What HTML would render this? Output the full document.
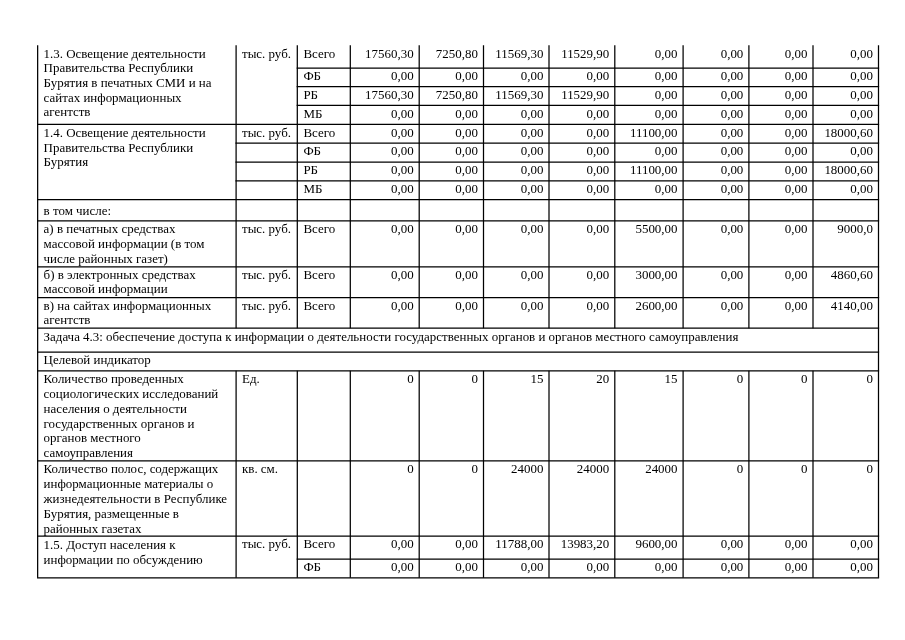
<!DOCTYPE html><html><head><meta charset="utf-8"><style>
html,body{margin:0;padding:0;background:#fff;width:905px;height:640px;overflow:hidden}
.t{position:absolute;font-family:"Liberation Serif","Noto Serif CJK SC",serif;font-size:12.95px;line-height:14.72px;white-space:nowrap;color:#000}
svg{position:absolute;left:0;top:0}
#w{position:absolute;left:0;top:0;width:905px;height:640px;will-change:transform;background:#fff}
</style></head><body><div id="w">
<svg width="905" height="640" viewBox="0 0 905 640"><g stroke="#000" stroke-width="1.25" shape-rendering="geometricPrecision">
<line x1="296.68" y1="68.00" x2="879.12" y2="68.00"/>
<line x1="296.68" y1="86.60" x2="879.12" y2="86.60"/>
<line x1="296.68" y1="105.45" x2="879.12" y2="105.45"/>
<line x1="37.02" y1="124.40" x2="879.12" y2="124.40"/>
<line x1="235.47" y1="143.00" x2="879.12" y2="143.00"/>
<line x1="235.47" y1="162.00" x2="879.12" y2="162.00"/>
<line x1="235.47" y1="180.90" x2="879.12" y2="180.90"/>
<line x1="37.02" y1="199.70" x2="879.12" y2="199.70"/>
<line x1="37.02" y1="220.95" x2="879.12" y2="220.95"/>
<line x1="37.02" y1="266.75" x2="879.12" y2="266.75"/>
<line x1="37.02" y1="297.50" x2="879.12" y2="297.50"/>
<line x1="37.02" y1="328.15" x2="879.12" y2="328.15"/>
<line x1="37.02" y1="352.00" x2="879.12" y2="352.00"/>
<line x1="37.02" y1="370.80" x2="879.12" y2="370.80"/>
<line x1="37.02" y1="460.75" x2="879.12" y2="460.75"/>
<line x1="37.02" y1="536.15" x2="879.12" y2="536.15"/>
<line x1="296.68" y1="559.10" x2="879.12" y2="559.10"/>
<line x1="37.02" y1="577.85" x2="879.12" y2="577.85"/>
<line x1="37.65" y1="45.30" x2="37.65" y2="577.85"/>
<line x1="878.50" y1="45.30" x2="878.50" y2="577.85"/>
<line x1="236.10" y1="45.30" x2="236.10" y2="328.15"/>
<line x1="236.10" y1="370.80" x2="236.10" y2="577.85"/>
<line x1="297.30" y1="45.30" x2="297.30" y2="328.15"/>
<line x1="297.30" y1="370.80" x2="297.30" y2="577.85"/>
<line x1="350.30" y1="45.30" x2="350.30" y2="328.15"/>
<line x1="350.30" y1="370.80" x2="350.30" y2="577.85"/>
<line x1="419.20" y1="45.30" x2="419.20" y2="328.15"/>
<line x1="419.20" y1="370.80" x2="419.20" y2="577.85"/>
<line x1="483.50" y1="45.30" x2="483.50" y2="328.15"/>
<line x1="483.50" y1="370.80" x2="483.50" y2="577.85"/>
<line x1="549.00" y1="45.30" x2="549.00" y2="328.15"/>
<line x1="549.00" y1="370.80" x2="549.00" y2="577.85"/>
<line x1="614.80" y1="45.30" x2="614.80" y2="328.15"/>
<line x1="614.80" y1="370.80" x2="614.80" y2="577.85"/>
<line x1="683.10" y1="45.30" x2="683.10" y2="328.15"/>
<line x1="683.10" y1="370.80" x2="683.10" y2="577.85"/>
<line x1="748.90" y1="45.30" x2="748.90" y2="328.15"/>
<line x1="748.90" y1="370.80" x2="748.90" y2="577.85"/>
<line x1="813.00" y1="45.30" x2="813.00" y2="328.15"/>
<line x1="813.00" y1="370.80" x2="813.00" y2="577.85"/>
</g></svg>
<div class="t" style="left:43.60px;top:46.60px">1.3. Освещение деятельности</div>
<div class="t" style="left:43.60px;top:61.32px">Правительства Республики</div>
<div class="t" style="left:43.60px;top:76.04px">Бурятия в печатных СМИ и на</div>
<div class="t" style="left:43.60px;top:90.76px">сайтах информационных</div>
<div class="t" style="left:43.60px;top:105.48px">агентств</div>
<div class="t" style="left:242.00px;top:46.60px">тыс. руб.</div>
<div class="t" style="left:303.40px;top:46.60px">Всего</div>
<div class="t" style="right:491.40px;top:46.60px">17560,30</div>
<div class="t" style="right:427.10px;top:46.60px">7250,80</div>
<div class="t" style="right:361.60px;top:46.60px">11569,30</div>
<div class="t" style="right:295.80px;top:46.60px">11529,90</div>
<div class="t" style="right:227.50px;top:46.60px">0,00</div>
<div class="t" style="right:161.70px;top:46.60px">0,00</div>
<div class="t" style="right:97.60px;top:46.60px">0,00</div>
<div class="t" style="right:32.10px;top:46.60px">0,00</div>
<div class="t" style="left:303.40px;top:69.30px">ФБ</div>
<div class="t" style="right:491.40px;top:69.30px">0,00</div>
<div class="t" style="right:427.10px;top:69.30px">0,00</div>
<div class="t" style="right:361.60px;top:69.30px">0,00</div>
<div class="t" style="right:295.80px;top:69.30px">0,00</div>
<div class="t" style="right:227.50px;top:69.30px">0,00</div>
<div class="t" style="right:161.70px;top:69.30px">0,00</div>
<div class="t" style="right:97.60px;top:69.30px">0,00</div>
<div class="t" style="right:32.10px;top:69.30px">0,00</div>
<div class="t" style="left:303.40px;top:87.80px">РБ</div>
<div class="t" style="right:491.40px;top:87.80px">17560,30</div>
<div class="t" style="right:427.10px;top:87.80px">7250,80</div>
<div class="t" style="right:361.60px;top:87.80px">11569,30</div>
<div class="t" style="right:295.80px;top:87.80px">11529,90</div>
<div class="t" style="right:227.50px;top:87.80px">0,00</div>
<div class="t" style="right:161.70px;top:87.80px">0,00</div>
<div class="t" style="right:97.60px;top:87.80px">0,00</div>
<div class="t" style="right:32.10px;top:87.80px">0,00</div>
<div class="t" style="left:303.40px;top:107.40px">МБ</div>
<div class="t" style="right:491.40px;top:107.40px">0,00</div>
<div class="t" style="right:427.10px;top:107.40px">0,00</div>
<div class="t" style="right:361.60px;top:107.40px">0,00</div>
<div class="t" style="right:295.80px;top:107.40px">0,00</div>
<div class="t" style="right:227.50px;top:107.40px">0,00</div>
<div class="t" style="right:161.70px;top:107.40px">0,00</div>
<div class="t" style="right:97.60px;top:107.40px">0,00</div>
<div class="t" style="right:32.10px;top:107.40px">0,00</div>
<div class="t" style="left:43.60px;top:125.75px">1.4. Освещение деятельности</div>
<div class="t" style="left:43.60px;top:140.75px">Правительства Республики</div>
<div class="t" style="left:43.60px;top:155.40px">Бурятия</div>
<div class="t" style="left:242.00px;top:125.75px">тыс. руб.</div>
<div class="t" style="left:303.40px;top:125.75px">Всего</div>
<div class="t" style="right:491.40px;top:125.75px">0,00</div>
<div class="t" style="right:427.10px;top:125.75px">0,00</div>
<div class="t" style="right:361.60px;top:125.75px">0,00</div>
<div class="t" style="right:295.80px;top:125.75px">0,00</div>
<div class="t" style="right:227.50px;top:125.75px">11100,00</div>
<div class="t" style="right:161.70px;top:125.75px">0,00</div>
<div class="t" style="right:97.60px;top:125.75px">0,00</div>
<div class="t" style="right:32.10px;top:125.75px">18000,60</div>
<div class="t" style="left:303.40px;top:144.30px">ФБ</div>
<div class="t" style="right:491.40px;top:144.30px">0,00</div>
<div class="t" style="right:427.10px;top:144.30px">0,00</div>
<div class="t" style="right:361.60px;top:144.30px">0,00</div>
<div class="t" style="right:295.80px;top:144.30px">0,00</div>
<div class="t" style="right:227.50px;top:144.30px">0,00</div>
<div class="t" style="right:161.70px;top:144.30px">0,00</div>
<div class="t" style="right:97.60px;top:144.30px">0,00</div>
<div class="t" style="right:32.10px;top:144.30px">0,00</div>
<div class="t" style="left:303.40px;top:163.20px">РБ</div>
<div class="t" style="right:491.40px;top:163.20px">0,00</div>
<div class="t" style="right:427.10px;top:163.20px">0,00</div>
<div class="t" style="right:361.60px;top:163.20px">0,00</div>
<div class="t" style="right:295.80px;top:163.20px">0,00</div>
<div class="t" style="right:227.50px;top:163.20px">11100,00</div>
<div class="t" style="right:161.70px;top:163.20px">0,00</div>
<div class="t" style="right:97.60px;top:163.20px">0,00</div>
<div class="t" style="right:32.10px;top:163.20px">18000,60</div>
<div class="t" style="left:303.40px;top:182.40px">МБ</div>
<div class="t" style="right:491.40px;top:182.40px">0,00</div>
<div class="t" style="right:427.10px;top:182.40px">0,00</div>
<div class="t" style="right:361.60px;top:182.40px">0,00</div>
<div class="t" style="right:295.80px;top:182.40px">0,00</div>
<div class="t" style="right:227.50px;top:182.40px">0,00</div>
<div class="t" style="right:161.70px;top:182.40px">0,00</div>
<div class="t" style="right:97.60px;top:182.40px">0,00</div>
<div class="t" style="right:32.10px;top:182.40px">0,00</div>
<div class="t" style="left:43.60px;top:203.90px">в том числе:</div>
<div class="t" style="left:43.60px;top:222.30px">а) в печатных средствах</div>
<div class="t" style="left:43.60px;top:237.20px">массовой информации (в том</div>
<div class="t" style="left:43.60px;top:251.80px">числе районных газет)</div>
<div class="t" style="left:242.00px;top:222.30px">тыс. руб.</div>
<div class="t" style="left:303.40px;top:222.30px">Всего</div>
<div class="t" style="right:491.40px;top:222.30px">0,00</div>
<div class="t" style="right:427.10px;top:222.30px">0,00</div>
<div class="t" style="right:361.60px;top:222.30px">0,00</div>
<div class="t" style="right:295.80px;top:222.30px">0,00</div>
<div class="t" style="right:227.50px;top:222.30px">5500,00</div>
<div class="t" style="right:161.70px;top:222.30px">0,00</div>
<div class="t" style="right:97.60px;top:222.30px">0,00</div>
<div class="t" style="right:32.10px;top:222.30px">9000,0</div>
<div class="t" style="left:43.60px;top:267.90px">б) в электронных средствах</div>
<div class="t" style="left:43.60px;top:282.40px">массовой информации</div>
<div class="t" style="left:242.00px;top:267.90px">тыс. руб.</div>
<div class="t" style="left:303.40px;top:267.90px">Всего</div>
<div class="t" style="right:491.40px;top:267.90px">0,00</div>
<div class="t" style="right:427.10px;top:267.90px">0,00</div>
<div class="t" style="right:361.60px;top:267.90px">0,00</div>
<div class="t" style="right:295.80px;top:267.90px">0,00</div>
<div class="t" style="right:227.50px;top:267.90px">3000,00</div>
<div class="t" style="right:161.70px;top:267.90px">0,00</div>
<div class="t" style="right:97.60px;top:267.90px">0,00</div>
<div class="t" style="right:32.10px;top:267.90px">4860,60</div>
<div class="t" style="left:43.60px;top:299.20px">в) на сайтах информационных</div>
<div class="t" style="left:43.60px;top:313.10px">агентств</div>
<div class="t" style="left:242.00px;top:299.20px">тыс. руб.</div>
<div class="t" style="left:303.40px;top:299.20px">Всего</div>
<div class="t" style="right:491.40px;top:299.20px">0,00</div>
<div class="t" style="right:427.10px;top:299.20px">0,00</div>
<div class="t" style="right:361.60px;top:299.20px">0,00</div>
<div class="t" style="right:295.80px;top:299.20px">0,00</div>
<div class="t" style="right:227.50px;top:299.20px">2600,00</div>
<div class="t" style="right:161.70px;top:299.20px">0,00</div>
<div class="t" style="right:97.60px;top:299.20px">0,00</div>
<div class="t" style="right:32.10px;top:299.20px">4140,00</div>
<div class="t" style="left:43.60px;top:329.50px">Задача 4.3: обеспечение доступа к информации о деятельности государственных органов и органов местного самоуправления</div>
<div class="t" style="left:43.60px;top:353.20px">Целевой индикатор</div>
<div class="t" style="left:43.60px;top:372.00px">Количество проведенных</div>
<div class="t" style="left:43.60px;top:386.90px">социологических исследований</div>
<div class="t" style="left:43.60px;top:401.65px">населения о деятельности</div>
<div class="t" style="left:43.60px;top:416.60px">государственных органов и</div>
<div class="t" style="left:43.60px;top:431.20px">органов местного</div>
<div class="t" style="left:43.60px;top:445.80px">самоуправления</div>
<div class="t" style="left:242.00px;top:372.00px">Ед.</div>
<div class="t" style="right:491.40px;top:372.00px">0</div>
<div class="t" style="right:427.10px;top:372.00px">0</div>
<div class="t" style="right:361.60px;top:372.00px">15</div>
<div class="t" style="right:295.80px;top:372.00px">20</div>
<div class="t" style="right:227.50px;top:372.00px">15</div>
<div class="t" style="right:161.70px;top:372.00px">0</div>
<div class="t" style="right:97.60px;top:372.00px">0</div>
<div class="t" style="right:32.10px;top:372.00px">0</div>
<div class="t" style="left:43.60px;top:462.00px">Количество полос, содержащих</div>
<div class="t" style="left:43.60px;top:476.80px">информационные материалы о</div>
<div class="t" style="left:43.60px;top:491.90px">жизнедеятельности в Республике</div>
<div class="t" style="left:43.60px;top:506.70px">Бурятия, размещенные в</div>
<div class="t" style="left:43.60px;top:521.60px">районных газетах</div>
<div class="t" style="left:242.00px;top:462.20px">кв. см.</div>
<div class="t" style="right:491.40px;top:462.40px">0</div>
<div class="t" style="right:427.10px;top:462.40px">0</div>
<div class="t" style="right:361.60px;top:462.40px">24000</div>
<div class="t" style="right:295.80px;top:462.40px">24000</div>
<div class="t" style="right:227.50px;top:462.40px">24000</div>
<div class="t" style="right:161.70px;top:462.40px">0</div>
<div class="t" style="right:97.60px;top:462.40px">0</div>
<div class="t" style="right:32.10px;top:462.40px">0</div>
<div class="t" style="left:43.60px;top:537.70px">1.5. Доступ населения к</div>
<div class="t" style="left:43.60px;top:552.50px">информации по обсуждению</div>
<div class="t" style="left:242.00px;top:537.40px">тыс. руб.</div>
<div class="t" style="left:303.40px;top:537.40px">Всего</div>
<div class="t" style="right:491.40px;top:537.30px">0,00</div>
<div class="t" style="right:427.10px;top:537.30px">0,00</div>
<div class="t" style="right:361.60px;top:537.30px">11788,00</div>
<div class="t" style="right:295.80px;top:537.30px">13983,20</div>
<div class="t" style="right:227.50px;top:537.30px">9600,00</div>
<div class="t" style="right:161.70px;top:537.30px">0,00</div>
<div class="t" style="right:97.60px;top:537.30px">0,00</div>
<div class="t" style="right:32.10px;top:537.30px">0,00</div>
<div class="t" style="left:303.40px;top:560.00px">ФБ</div>
<div class="t" style="right:491.40px;top:560.00px">0,00</div>
<div class="t" style="right:427.10px;top:560.00px">0,00</div>
<div class="t" style="right:361.60px;top:560.00px">0,00</div>
<div class="t" style="right:295.80px;top:560.00px">0,00</div>
<div class="t" style="right:227.50px;top:560.00px">0,00</div>
<div class="t" style="right:161.70px;top:560.00px">0,00</div>
<div class="t" style="right:97.60px;top:560.00px">0,00</div>
<div class="t" style="right:32.10px;top:560.00px">0,00</div>
</div></body></html>
